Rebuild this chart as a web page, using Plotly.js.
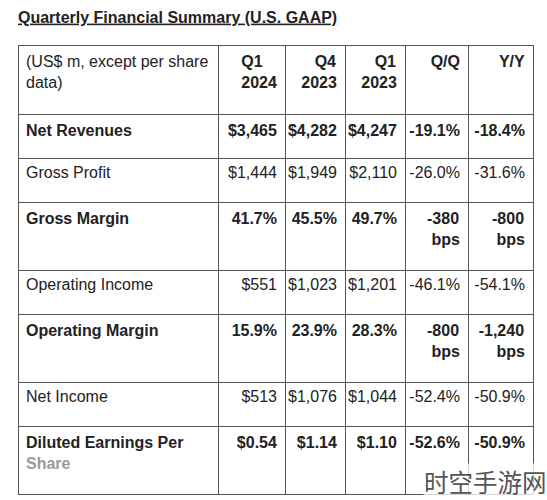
<!DOCTYPE html>
<html>
<head>
<meta charset="utf-8">
<script src="https://cdn.plot.ly/plotly-3.0.1.min.js"></script>
<style>html,body{margin:0;padding:0;background:#fff;}#chart{width:547px;height:500px;}</style>
</head>
<body>
<div id="chart"></div>
<script>
// ---- data ----
const titleText = "Quarterly Financial Summary (U.S. GAAP)";
const headerLabels = ["(US$ m, except per share<br>data)", "Q1<br>2024", "Q4<br>2023", "Q1<br>2023", "Q/Q", "Y/Y"];
const categories = ["Net Revenues", "Gross Profit", "Gross Margin", "Operating Income", "Operating Margin", "Net Income", "Diluted Earnings Per<br><span style='color:#9a9a9a'>Share</span>"];
const q1_2024 = ["$3,465", "$1,444", "41.7%", "$551", "15.9%", "$513", "$0.54"];
const q4_2023 = ["$4,282", "$1,949", "45.5%", "$1,023", "23.9%", "$1,076", "$1.14"];
const q1_2023 = ["$4,247", "$2,110", "49.7%", "$1,201", "28.3%", "$1,044", "$1.10"];
const qoq = ["-19.1%", "-26.0%", "-380<br>bps", "-46.1%", "-800<br>bps", "-52.4%", "-52.6%"];
const yoy = ["-18.4%", "-31.6%", "-800<br>bps", "-54.1%", "-1,240<br>bps", "-50.9%", "-50.9%"];
const boldRows = [true, false, true, false, true, false, true];
const tallRows = [false, false, true, false, true, false, true];
const watermark = "时空手游网";

// ---- build ----
const W = 547, H = 500;
const FONT = "Liberation Sans";
const FS = 16;
// first column is an invisible 1px spacer that sets the height of the taller rows
const colW = [1, 200, 67, 60, 60, 63, 65];
const tblLeft = 17, tblRight = 533, tblTop = 45;

// right-align each line of a multi-line cell by left-padding shorter lines
const ctx = document.createElement("canvas").getContext("2d");
function padLines(text, bold) {
  const lines = text.split("<br>");
  if (lines.length < 2) return text;
  ctx.font = (bold ? "bold " : "") + FS + "px '" + FONT + "'";
  const widths = lines.map(l => ctx.measureText(l.replace(/<[^>]+>/g, "")).width);
  const max = Math.max(...widths);
  const sp = ctx.measureText("\u00a0").width;
  return lines.map((l, i) => "\u00a0".repeat(Math.max(0, Math.round((max - widths[i]) / sp))) + l).join("<br>");
}
const fmtCol = (arr, pad) => arr.map((v, i) => {
  const t = pad ? padLines(v, boldRows[i]) : v;
  return boldRows[i] ? "<b>" + t + "</b>" : t;
});
const spacerCells = tallRows.map(t => ".<br>.");
const spacerSizes = tallRows.map(t => t ? 21.5 : 8);

const cellValues = [spacerCells, fmtCol(categories, false), fmtCol(q1_2024, true), fmtCol(q4_2023, true),
                    fmtCol(q1_2023, true), fmtCol(qoq, true), fmtCol(yoy, true)];
const headerValues = [".<br>."].concat(headerLabels.map((h, i) => {
  if (i === 0) return h;
  return "<b>" + (i === 1 ? h : padLines(h, true)) + "</b>";
}));

const LINE = "#555555";
const CLR = "#222222";
const NONE = "rgba(0,0,0,0)";
const trace = {
  type: "table",
  domain: {x: [tblLeft / W, tblRight / W], y: [0, 1 - tblTop / H]},
  columnwidth: colW,
  header: {
    values: headerValues,
    align: ["right", "left", "right", "right", "right", "right", "right"],
    height: 44,
    fill: {color: [NONE, "#fff", "#fff", "#fff", "#fff", "#fff", "#fff"]},
    line: {color: [NONE, LINE, LINE, LINE, LINE, LINE, LINE], width: 1},
    font: {family: FONT + ", Arial, sans-serif", size: [21.9, FS, FS, FS, FS, FS, FS],
           color: [NONE, CLR, CLR, CLR, CLR, CLR, CLR]}
  },
  cells: {
    values: cellValues,
    align: ["right", "left", "right", "right", "right", "right", "right"],
    height: 44,
    fill: {color: [NONE, "#fff", "#fff", "#fff", "#fff", "#fff", "#fff"]},
    line: {color: [NONE, LINE, LINE, LINE, LINE, LINE, LINE], width: 1},
    font: {family: FONT + ", Arial, sans-serif", size: [spacerSizes, FS, FS, FS, FS, FS, FS],
           color: [NONE, CLR, CLR, CLR, CLR, CLR, CLR]}
  }
};

const layout = {
  width: W, height: H,
  margin: {l: 0, r: 0, t: 0, b: 0},
  paper_bgcolor: "#ffffff",
  title: {
    text: "<b>" + titleText + "</b>",
    x: 18 / W, xanchor: "left", xref: "container",
    y: 1 - 17 / H, yanchor: "middle", yref: "container",
    font: {family: FONT + ", Arial, sans-serif", size: 16, color: CLR, lineposition: "under"}
  },
  annotations: [{
    text: watermark, xref: "paper", yref: "paper",
    x: 423 / W, y: 1 - 481 / H, xanchor: "left", yanchor: "middle",
    showarrow: false, bgcolor: "rgba(255,255,255,0.75)", borderpad: 0,
    font: {family: "Noto Sans CJK SC", size: 24.5, color: "#555"}
  }]
};

Plotly.newPlot("chart", [trace], layout, {displayModeBar: false, staticPlot: true});
</script>
</body>
</html>
